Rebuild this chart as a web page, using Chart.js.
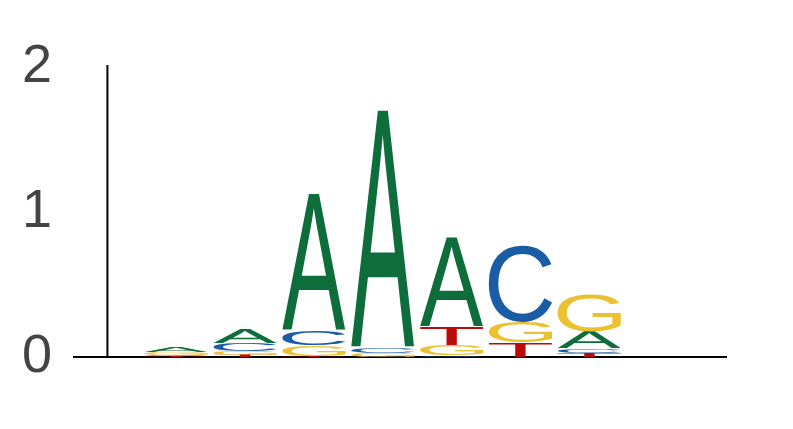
<!DOCTYPE html>
<html>
<head>
<meta charset="utf-8">
<script src="https://cdn.jsdelivr.net/npm/chart.js@4/dist/chart.umd.min.js"></script>
<style>
  html, body { margin: 0; padding: 0; background: #fff; }
  #wrap { width: 793px; height: 429px; }
</style>
</head>
<body>
<div id="wrap"><canvas id="logo"></canvas></div>
<script>
// sequence logo: bits per base at each position
const positions = [1, 2, 3, 4, 5, 6, 7];
const bases = ['A', 'C', 'G', 'T'];
const bitsA = [0.035, 0.097, 0.945, 1.640, 0.614, 0.002, 0.117];
const bitsC = [0.012, 0.055, 0.097, 0.035, 0.010, 0.524, 0.030];
const bitsG = [0.015, 0.027, 0.076, 0.025, 0.076, 0.145, 0.250];
const bitsT = [0.005, 0.014, 0.005, 0.003, 0.124, 0.097, 0.028];
const yTicks = [0, 1, 2];

const bits = { A: bitsA, C: bitsC, G: bitsG, T: bitsT };
const baseColors = { A: '#0d6e3b', C: '#1a5ca5', G: '#ebc131', T: '#bd0a0a' };
const letterWidth = 0.92;

function drawGlyph(ctx, ch, x, y, w, h, color) {
  if (h < 0.4) return;
  ctx.save();
  ctx.font = '200px "Liberation Sans", Arial, sans-serif';
  ctx.textAlign = 'left';
  ctx.textBaseline = 'alphabetic';
  const m = ctx.measureText(ch);
  const gw = m.actualBoundingBoxLeft + m.actualBoundingBoxRight;
  const gh = m.actualBoundingBoxAscent + m.actualBoundingBoxDescent;
  ctx.translate(x, y);
  ctx.scale(w / gw, h / gh);
  ctx.fillStyle = color;
  ctx.fillText(ch, m.actualBoundingBoxLeft, m.actualBoundingBoxAscent);
  ctx.restore();
}

const logoLetters = {
  id: 'logoLetters',
  afterDatasetsDraw(chart) {
    const ctx = chart.ctx;
    const xs = chart.scales.x;
    const ys = chart.scales.y;
    const area = chart.chartArea;

    // axis lines: x along y=0, y axis sits at x=0
    ctx.save();
    ctx.strokeStyle = '#000';
    ctx.lineWidth = 2;
    const y0 = ys.getPixelForValue(0);
    const xAxis0 = xs.getPixelForValue(0);
    ctx.beginPath();
    ctx.moveTo(area.left, y0);
    ctx.lineTo(area.right, y0);
    ctx.moveTo(xAxis0, y0);
    ctx.lineTo(xAxis0, ys.getPixelForValue(yTicks[yTicks.length - 1]) - 2);
    ctx.stroke();
    ctx.restore();

    positions.forEach((p, i) => {
      const stack = bases.map(b => ({ b: b, h: bits[b][i] })).sort((a, b) => a.h - b.h);
      const left = xs.getPixelForValue(p - letterWidth / 2);
      const right = xs.getPixelForValue(p + letterWidth / 2);
      let level = 0;
      stack.forEach(s => {
        const yb = ys.getPixelForValue(level);
        const yt = ys.getPixelForValue(level + s.h);
        drawGlyph(ctx, s.b, left, yt, right - left, yb - yt, baseColors[s.b]);
        level += s.h;
      });
    });
  }
};

new Chart(document.getElementById('logo'), {
  type: 'scatter',
  plugins: [logoLetters],
  data: {
    datasets: [{
      data: positions.map((p, i) => ({ x: p, y: bitsA[i] + bitsC[i] + bitsG[i] + bitsT[i] })),
      pointRadius: 0,
      pointHoverRadius: 0
    }]
  },
  options: {
    responsive: true,
    maintainAspectRatio: false,
    animation: false,
    events: [],
    layout: { padding: { left: 0, right: 66, top: 67, bottom: 72 } },
    plugins: { legend: { display: false }, tooltip: { enabled: false } },
    scales: {
      x: { type: 'linear', min: -0.5, max: 9, display: false },
      y: {
        min: 0,
        max: 2,
        afterFit: (scale) => { scale.width = 73; },
        afterBuildTicks: (scale) => { scale.ticks = yTicks.map(v => ({ value: v })); },
        grid: { display: false, drawTicks: false },
        border: { display: false },
        ticks: {
          padding: 21,
          color: '#444',
          font: { family: '"Liberation Sans", Arial, sans-serif', size: 54 }
        }
      }
    }
  }
});
</script>
</body>
</html>
